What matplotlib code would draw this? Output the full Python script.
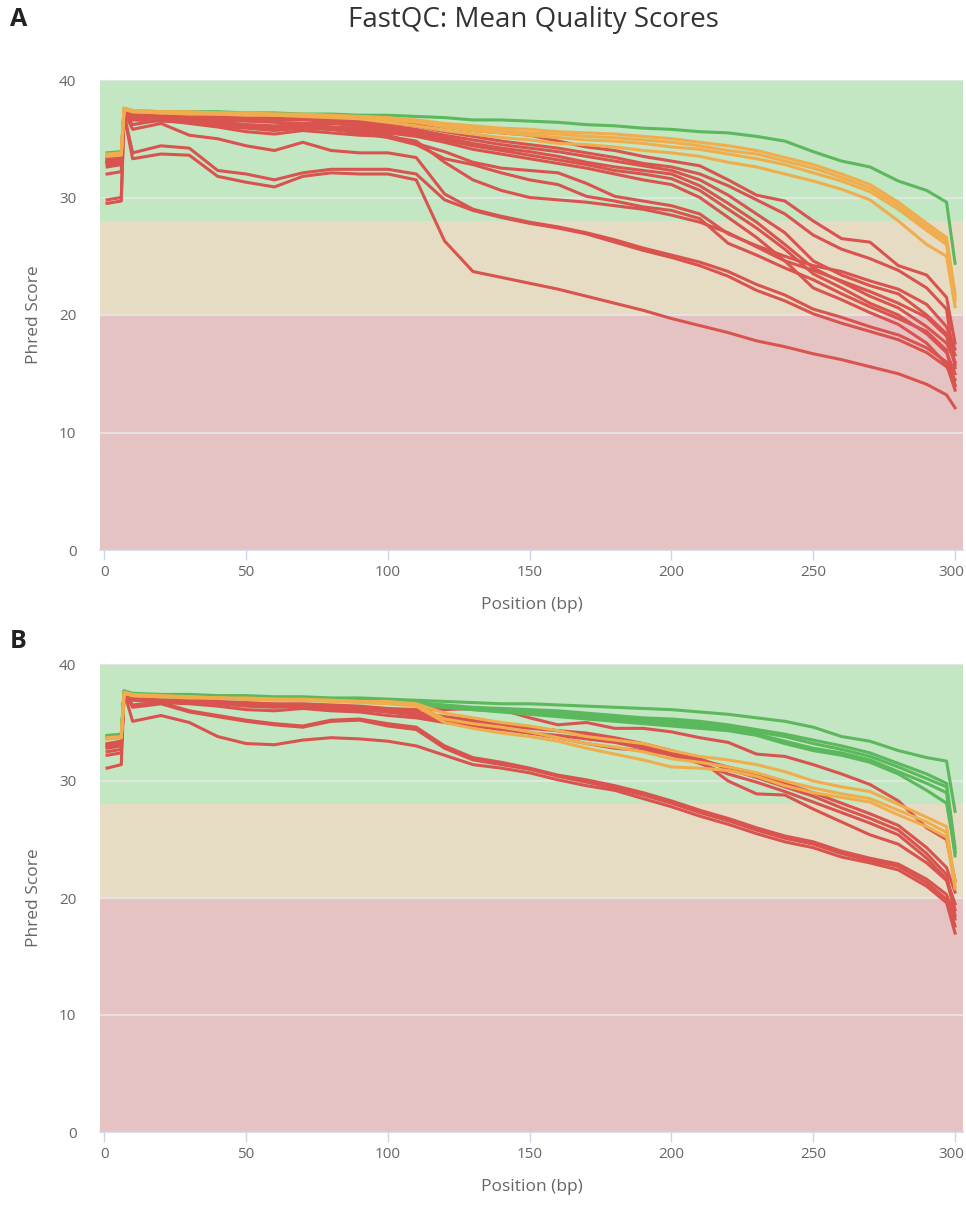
import matplotlib
matplotlib.use("Agg")
import matplotlib.pyplot as plt
from matplotlib.transforms import ScaledTranslation

plt.rcParams['font.family'] = ['Open Sans', 'DejaVu Sans']

# read positions (bp) shared by every sample
pos = [1, 6, 7, 10, 20, 30, 40, 50, 60, 70, 80, 90, 100, 110, 120, 130, 140, 150,
       160, 170, 180, 190, 200, 210, 220, 230, 240, 250, 260, 270, 280, 290, 297, 300]

# ---- run A : mean phred score per position ----
a_pass = [
    [33.8, 33.9, 37.6, 37.4, 37.3, 37.3, 37.3, 37.2, 37.2, 37.1, 37.1, 37.0, 37.0, 36.9, 36.8, 36.6, 36.6, 36.5,
     36.4, 36.2, 36.1, 35.9, 35.8, 35.6, 35.5, 35.2, 34.8, 33.9, 33.1, 32.6, 31.4, 30.6, 29.6, 24.4],
]
a_warn = [
    [33.7, 33.8, 37.6, 37.4, 37.3, 37.3, 37.2, 37.2, 37.1, 37.1, 37.0, 36.9, 36.8, 36.6, 36.3, 36.1, 35.9, 35.8,
     35.6, 35.5, 35.4, 35.2, 35.0, 34.7, 34.4, 34.0, 33.4, 32.8, 32.0, 31.1, 29.6, 27.8, 26.6, 21.8],
    [33.6, 33.7, 37.6, 37.4, 37.3, 37.2, 37.2, 37.1, 37.1, 37.0, 36.9, 36.9, 36.7, 36.5, 36.2, 35.9, 35.7, 35.5,
     35.4, 35.2, 35.1, 34.9, 34.7, 34.4, 34.0, 33.7, 33.1, 32.5, 31.7, 30.8, 29.3, 27.5, 26.3, 21.5],
    [33.6, 33.7, 37.5, 37.3, 37.2, 37.2, 37.1, 37.1, 37.0, 37.0, 36.9, 36.8, 36.6, 36.4, 36.0, 35.7, 35.5, 35.3,
     35.1, 34.9, 34.8, 34.6, 34.3, 34.1, 33.7, 33.3, 32.8, 32.1, 31.4, 30.5, 29.0, 27.2, 26.0, 21.2],
    [33.5, 33.6, 37.5, 37.3, 37.2, 37.1, 37.1, 37.0, 37.0, 36.9, 36.8, 36.7, 36.4, 36.1, 35.7, 35.4, 35.1, 34.9,
     34.6, 34.5, 34.3, 34.0, 33.8, 33.5, 33.0, 32.6, 32.0, 31.4, 30.7, 29.8, 28.0, 26.0, 25.0, 20.7],
]
a_fail = [
    [29.5, 29.7, 37.0, 33.3, 33.7, 33.6, 31.8, 31.3, 30.9, 31.8, 32.1, 32.0, 32.0, 31.5, 26.3, 23.7, 23.2, 22.7,
     22.2, 21.6, 21.0, 20.4, 19.7, 19.1, 18.5, 17.8, 17.3, 16.7, 16.2, 15.6, 15.0, 14.1, 13.2, 12.1],
    [29.8, 30.0, 37.1, 33.8, 34.4, 34.2, 32.3, 32.0, 31.5, 32.1, 32.4, 32.4, 32.4, 32.0, 29.8, 28.9, 28.3, 27.8,
     27.4, 26.9, 26.2, 25.5, 24.9, 24.2, 23.3, 22.1, 21.2, 20.1, 19.3, 18.6, 17.9, 16.8, 15.6, 14.5],
    [33.1, 33.3, 37.3, 35.8, 36.3, 35.3, 35.0, 34.4, 34.0, 34.7, 34.0, 33.8, 33.8, 33.4, 30.3, 29.0, 28.4, 27.9,
     27.5, 27.0, 26.4, 25.7, 25.1, 24.5, 23.7, 22.6, 21.7, 20.5, 19.8, 19.0, 18.3, 17.2, 16.0, 14.0],
    [32.0, 32.2, 37.2, 36.2, 36.6, 36.3, 36.0, 35.6, 35.4, 35.7, 35.5, 35.3, 35.2, 34.8, 33.0, 31.5, 30.6, 30.0,
     29.8, 29.6, 29.3, 29.0, 28.5, 27.9, 27.0, 25.8, 24.6, 23.8, 22.9, 22.0, 21.0, 19.8, 18.2, 15.8],
    [33.0, 33.2, 37.3, 36.8, 36.9, 36.7, 36.4, 36.2, 36.1, 36.2, 36.0, 35.8, 35.3, 34.6, 33.9, 33.0, 32.5, 32.3,
     32.1, 31.2, 30.1, 29.7, 29.3, 28.6, 26.9, 25.9, 25.0, 24.2, 23.7, 22.9, 22.2, 20.9, 19.0, 17.1],
    [32.9, 33.1, 37.2, 36.7, 36.8, 36.5, 36.2, 36.0, 35.8, 36.0, 35.8, 35.5, 35.1, 34.5, 33.3, 32.8, 32.1, 31.5,
     31.1, 30.1, 29.7, 29.2, 28.9, 28.2, 26.1, 25.1, 24.0, 23.0, 21.8, 20.7, 19.7, 18.6, 17.0, 14.0],
    [33.3, 33.5, 37.5, 37.3, 37.2, 37.1, 37.0, 36.9, 36.8, 36.8, 36.7, 36.6, 36.5, 36.3, 36.0, 35.7, 35.5, 35.3,
     34.8, 34.3, 34.0, 33.5, 33.1, 32.7, 31.5, 30.2, 29.7, 28.0, 26.5, 26.2, 24.2, 23.4, 21.5, 17.6],
    [33.4, 33.6, 37.5, 37.3, 37.2, 37.1, 36.9, 36.8, 36.7, 36.7, 36.6, 36.4, 36.3, 36.1, 35.6, 35.2, 34.8, 34.5,
     34.2, 33.8, 33.4, 32.9, 32.6, 32.0, 31.0, 29.8, 28.6, 26.8, 25.6, 24.8, 23.8, 22.3, 20.5, 15.5],
    [33.2, 33.4, 37.4, 37.2, 37.1, 37.0, 36.8, 36.7, 36.6, 36.6, 36.5, 36.3, 36.1, 35.8, 35.3, 34.9, 34.5, 34.2,
     33.9, 33.5, 33.1, 32.7, 32.3, 31.5, 30.2, 28.6, 27.0, 24.6, 23.4, 22.5, 21.8, 20.0, 18.4, 16.6],
    [33.0, 33.2, 37.3, 37.0, 36.9, 36.8, 36.6, 36.5, 36.4, 36.3, 36.3, 36.1, 35.9, 35.6, 35.1, 34.6, 34.2, 33.9,
     33.5, 33.0, 32.6, 32.3, 32.0, 31.0, 29.5, 27.9, 26.0, 24.0, 22.8, 21.6, 20.6, 19.0, 17.6, 16.0],
    [32.8, 33.0, 37.2, 36.9, 36.8, 36.6, 36.4, 36.2, 36.0, 36.1, 36.0, 35.9, 35.7, 35.4, 34.9, 34.4, 34.0, 33.6,
     33.2, 32.8, 32.3, 32.0, 31.6, 30.6, 29.0, 27.4, 25.6, 23.5, 22.3, 21.0, 20.0, 18.4, 16.8, 15.0],
    [32.6, 32.8, 37.1, 36.6, 36.5, 36.4, 36.1, 35.9, 35.7, 35.9, 35.8, 35.6, 35.5, 35.2, 34.7, 34.1, 33.7, 33.3,
     32.9, 32.5, 32.0, 31.5, 31.1, 30.0, 28.3, 26.6, 24.6, 22.3, 21.3, 20.2, 19.2, 17.6, 15.8, 13.6],
]

# ---- run B ----
b_pass = [
    [33.9, 34.0, 37.7, 37.5, 37.4, 37.4, 37.3, 37.3, 37.2, 37.2, 37.1, 37.1, 37.0, 36.9, 36.8, 36.7, 36.6, 36.6,
     36.5, 36.4, 36.3, 36.2, 36.1, 35.9, 35.7, 35.4, 35.1, 34.6, 33.8, 33.4, 32.6, 32.0, 31.7, 27.4],
    [33.8, 33.9, 37.6, 37.4, 37.3, 37.3, 37.2, 37.2, 37.1, 37.1, 37.0, 37.0, 36.9, 36.7, 36.5, 36.3, 36.2, 36.1,
     36.0, 35.8, 35.6, 35.4, 35.3, 35.1, 34.8, 34.4, 34.0, 33.5, 33.0, 32.4, 31.5, 30.6, 29.8, 24.3],
    [33.8, 33.9, 37.6, 37.4, 37.3, 37.2, 37.2, 37.1, 37.1, 37.0, 37.0, 36.9, 36.8, 36.6, 36.4, 36.2, 36.1, 36.0,
     35.8, 35.6, 35.4, 35.3, 35.1, 34.9, 34.6, 34.2, 33.8, 33.2, 32.7, 32.1, 31.2, 30.2, 29.5, 24.0],
    [33.7, 33.8, 37.6, 37.3, 37.2, 37.2, 37.1, 37.1, 37.0, 37.0, 36.9, 36.9, 36.8, 36.6, 36.3, 36.1, 36.0, 35.8,
     35.6, 35.4, 35.2, 35.1, 34.9, 34.7, 34.4, 34.0, 33.4, 32.8, 32.4, 31.8, 30.8, 29.8, 29.0, 23.6],
    [33.7, 33.8, 37.5, 37.3, 37.2, 37.1, 37.1, 37.0, 37.0, 36.9, 36.9, 36.8, 36.7, 36.5, 36.3, 36.1, 35.9, 35.7,
     35.5, 35.3, 35.1, 34.9, 34.7, 34.5, 34.3, 33.9, 33.2, 32.6, 32.2, 31.6, 30.6, 29.2, 28.1, 23.9],
]
b_warn = [
    [33.7, 33.8, 37.6, 37.4, 37.3, 37.2, 37.1, 37.1, 37.0, 37.0, 36.9, 36.8, 36.8, 36.6, 35.8, 35.4, 35.0, 34.7,
     34.3, 33.8, 33.5, 33.2, 32.6, 32.1, 31.8, 31.4, 30.8, 30.0, 29.5, 29.1, 28.0, 26.9, 26.1, 21.0],
    [33.6, 33.7, 37.5, 37.3, 37.2, 37.2, 37.1, 37.0, 37.0, 36.9, 36.9, 36.8, 36.7, 36.5, 35.3, 34.9, 34.6, 34.2,
     33.7, 33.2, 32.9, 32.5, 31.9, 31.6, 31.2, 30.7, 30.0, 29.4, 28.9, 28.5, 27.5, 26.5, 25.6, 21.4],
    [33.6, 33.7, 37.5, 37.3, 37.2, 37.1, 37.1, 37.0, 36.9, 36.9, 36.8, 36.7, 36.6, 36.4, 35.0, 34.5, 34.1, 33.8,
     33.4, 32.8, 32.3, 31.8, 31.2, 31.1, 30.9, 30.4, 29.6, 29.0, 28.6, 28.2, 27.1, 26.1, 25.2, 20.8],
]
b_fail = [
    [31.1, 31.4, 37.6, 35.1, 35.6, 35.0, 33.8, 33.2, 33.1, 33.5, 33.7, 33.6, 33.4, 33.0, 32.2, 31.4, 31.1, 30.7,
     30.1, 29.6, 29.2, 28.5, 27.8, 27.0, 26.3, 25.5, 24.8, 24.3, 23.5, 23.0, 22.4, 21.0, 19.6, 17.0],
    [32.2, 32.4, 37.6, 36.3, 36.6, 35.9, 35.5, 35.1, 34.8, 34.6, 35.1, 35.2, 34.7, 34.4, 32.8, 31.8, 31.4, 31.0,
     30.4, 29.9, 29.4, 28.8, 28.1, 27.3, 26.6, 25.8, 25.1, 24.6, 23.8, 23.2, 22.7, 21.3, 19.9, 17.6],
    [32.5, 32.7, 37.6, 36.5, 36.7, 36.0, 35.6, 35.2, 34.9, 34.7, 35.2, 35.3, 34.9, 34.6, 33.0, 32.0, 31.6, 31.1,
     30.5, 30.1, 29.6, 29.0, 28.3, 27.5, 26.8, 26.0, 25.3, 24.8, 24.0, 23.4, 22.9, 21.6, 20.3, 18.2],
    [32.9, 33.1, 37.7, 37.2, 37.1, 36.9, 36.8, 36.7, 36.6, 36.6, 36.5, 36.4, 36.2, 36.1, 36.1, 36.2, 36.1, 35.4,
     34.8, 35.0, 34.5, 34.5, 34.2, 33.7, 33.3, 32.3, 32.1, 31.4, 30.6, 29.7, 28.3, 26.0, 25.0, 21.5],
    [33.0, 33.2, 37.6, 37.0, 36.9, 36.8, 36.6, 36.4, 36.3, 36.4, 36.2, 36.1, 35.9, 35.7, 35.3, 35.0, 34.8, 34.5,
     34.3, 34.1, 33.7, 33.2, 32.6, 31.9, 31.0, 30.3, 29.5, 28.7, 27.7, 26.8, 25.8, 23.8, 22.0, 18.5],
    [32.8, 33.0, 37.5, 36.9, 36.7, 36.6, 36.4, 36.1, 36.0, 36.2, 36.0, 35.9, 35.6, 35.4, 35.0, 34.7, 34.4, 34.1,
     33.9, 33.6, 33.3, 32.8, 32.2, 31.5, 30.6, 29.9, 29.1, 28.2, 27.3, 26.4, 25.4, 23.4, 21.6, 19.5],
    [33.2, 33.4, 37.6, 37.1, 37.0, 36.8, 36.7, 36.5, 36.4, 36.5, 36.3, 36.2, 35.9, 35.6, 35.2, 34.8, 34.5, 34.1,
     33.7, 33.2, 32.8, 32.6, 32.3, 31.8, 30.0, 28.9, 28.8, 27.6, 26.5, 25.4, 24.6, 23.0, 21.5, 19.0],
    [33.1, 33.3, 37.6, 37.1, 37.0, 36.9, 36.7, 36.6, 36.5, 36.5, 36.4, 36.3, 36.1, 35.9, 35.5, 35.2, 34.9, 34.6,
     34.3, 33.9, 33.5, 33.0, 32.4, 31.8, 31.2, 30.6, 29.8, 29.0, 28.1, 27.2, 26.2, 24.3, 22.6, 20.5],
]

# quality zones (phred) and their background colours
zones = [(28, 40, '#c3e6c3'), (20, 28, '#e6dcc3'), (0, 20, '#e6c3c3')]
col_pass, col_warn, col_fail = '#5cb85c', '#f0ad4e', '#d9534f'
grey = '#666666'
axis_blue = '#ccd6eb'

W, H = 966, 1210
fig = plt.figure(figsize=(W / 100, H / 100), dpi=100)


def panel(rect, passed, warned, failed):
    ax = fig.add_axes(rect)
    for lo, hi, c in zones:
        ax.axhspan(lo, hi, color=c, lw=0, zorder=0.2)
    for y in (10, 20, 30, 40):
        ax.axhline(y, color='#e6e6e6', lw=1.2, zorder=0.5)
    for group, c in ((failed, col_fail), (passed, col_pass), (warned, col_warn)):
        for s in group:
            ax.plot(pos, s, color=c, lw=2.2, zorder=2, solid_joinstyle='round')
    ax.set_xlim(-1.5, 302.8)
    ax.set_ylim(0, 40)
    ax.set_xticks([0, 50, 100, 150, 200, 250, 300])
    ax.set_yticks([0, 10, 20, 30, 40])
    for side in ('top', 'right', 'left'):
        ax.spines[side].set_visible(False)
    ax.spines['bottom'].set_color(axis_blue)
    ax.spines['bottom'].set_linewidth(1.2)
    ax.spines['bottom'].set_zorder(3)
    ax.tick_params(axis='x', direction='out', length=7, width=1, color=axis_blue,
                   labelcolor=grey, labelsize=11, pad=4)
    ax.tick_params(axis='y', length=0, labelcolor=grey, labelsize=11, pad=17)
    # keep the last tick label inside the canvas
    last = ax.get_xticklabels()[-1]
    last.set_transform(last.get_transform() + ScaledTranslation(-4 / 100, 0, fig.dpi_scale_trans))
    ax.set_xlabel('Position (bp)', color=grey, fontsize=12.5, labelpad=12)
    ax.set_ylabel('Phred Score', color=grey, fontsize=12.5, labelpad=12)
    return ax


panel([100 / W, 1 - 550 / H, 863 / W, 470 / H], a_pass, a_warn, a_fail)
panel([100 / W, 1 - 1132 / H, 863 / W, 468 / H], b_pass, b_warn, b_fail)

fig.text(533 / W, 1 - 20 / H, 'FastQC: Mean Quality Scores', ha='center', va='center',
         fontsize=20, color='#333333')
fig.text(10 / W, 1 - 20 / H, 'A', ha='left', va='center', fontsize=18,
         fontweight='bold', color='#222222')
fig.text(10 / W, 1 - 641 / H, 'B', ha='left', va='center', fontsize=18,
         fontweight='bold', color='#222222')

fig.savefig('out.png', dpi=100)
